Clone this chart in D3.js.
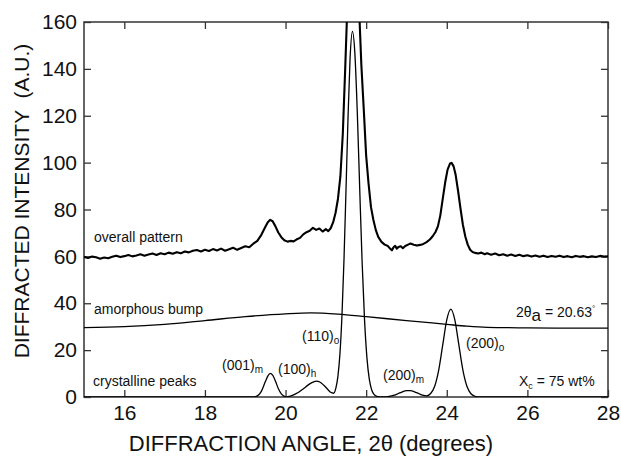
<!DOCTYPE html>
<html>
<head>
<meta charset="utf-8">
<script src="https://cdn.jsdelivr.net/npm/d3@7"></script>
<style>
  body { margin: 0; background: #fff; }
  svg { display: block; font-family: "Liberation Sans", Arial, Helvetica, sans-serif; }
</style>
</head>
<body>
<svg id="chart" width="621" height="457"></svg>
<script>
// X-ray diffraction pattern of a semicrystalline film, decomposed into
// amorphous and crystalline contributions.

// Measured pattern (2θ in degrees, intensity in A.U.), shifted up for display
const overallPattern = [
  [15.0,59.8],[15.1,59.3],[15.2,59.9],[15.3,59.6],[15.4,59.0],[15.5,59.5],[15.6,59.2],[15.7,59.8],
  [15.8,60.3],[15.9,59.7],[16.0,60.1],[16.1,60.6],[16.2,60.0],[16.3,60.4],[16.4,60.9],[16.5,60.3],
  [16.6,60.8],[16.7,61.2],[16.8,60.6],[16.9,61.3],[17.0,60.9],[17.1,61.6],[17.2,61.1],[17.3,61.8],
  [17.4,61.3],[17.5,62.1],[17.6,61.7],[17.7,62.4],[17.8,62.7],[17.9,62.1],[18.0,62.8],[18.1,62.3],
  [18.2,63.1],[18.3,62.5],[18.4,63.3],[18.5,62.4],[18.6,63.0],[18.7,63.7],[18.8,62.8],[18.9,63.6],
  [19.0,64.3],[19.1,63.9],[19.2,65.4],[19.3,66.6],[19.4,69.2],[19.5,72.6],[19.56,74.6],[19.62,75.6],
  [19.68,75.0],[19.75,72.8],[19.82,70.2],[19.9,68.1],[19.97,66.9],[20.05,66.3],[20.12,66.6],[20.2,66.4],
  [20.28,67.3],[20.36,67.9],[20.44,69.4],[20.52,70.3],[20.6,70.9],[20.68,72.2],[20.76,71.3],[20.84,71.9],
  [20.92,70.6],[21.0,71.6],[21.06,70.8],[21.12,72.0],[21.18,74.5],[21.24,78.5],[21.3,84.5],[21.36,94],
  [21.42,112],[21.48,140],[21.53,165],[21.58,195],[21.64,218],[21.7,215],[21.76,192],[21.82,168],
  [21.88,142],[21.94,123],[22.0,103],[22.06,91],[22.12,81],[22.18,75.5],[22.24,71.2],[22.3,68.3],
  [22.38,66.2],[22.46,65.0],[22.54,64.4],[22.6,63.2],[22.64,62.6],[22.68,63.9],[22.72,64.5],[22.76,63.3],
  [22.8,64.0],[22.86,64.3],[22.91,63.5],[22.97,64.4],[23.04,65.0],[23.1,65.5],[23.18,65.0],[23.26,64.6],
  [23.34,64.9],[23.42,65.3],[23.5,66.1],[23.58,67.2],[23.65,68.6],[23.72,70.4],[23.78,72.8],[23.84,77.5],
  [23.9,84.5],[23.96,91.5],[24.02,97.0],[24.08,99.6],[24.12,99.9],[24.17,98.4],[24.22,94.8],[24.28,88.0],
  [24.34,80.5],[24.4,73.5],[24.46,68.5],[24.52,65.0],[24.58,62.8],[24.64,61.9],[24.7,61.5],[24.78,61.2],
  [24.86,61.6],[24.94,60.9],[25.0,61.3],[25.1,60.7],[25.2,61.2],[25.3,60.5],[25.4,60.9],[25.5,60.3],
  [25.6,60.8],[25.7,60.2],[25.8,60.7],[25.9,60.1],[26.0,60.5],[26.1,59.9],[26.2,60.4],[26.3,59.8],
  [26.4,60.3],[26.5,59.7],[26.6,60.2],[26.7,59.8],[26.8,60.3],[26.9,59.7],[27.0,60.1],[27.1,59.6],
  [27.2,60.2],[27.3,59.8],[27.4,60.1],[27.5,59.6],[27.6,60.0],[27.7,59.7],[27.8,60.2],[27.9,59.9],
  [28.0,60.0]
];

// Fitted amorphous halo
const amorphousBump = [
  [15,29.6],[16,30.0],[17,31.0],[18,32.6],[19,34.3],[20,35.5],[20.63,35.9],[21.3,35.4],
  [22,34.3],[23,32.6],[24,31.0],[24.5,30.2],[25,29.7],[26,29.5],[27,29.4],[28,29.4]
];

// Fitted crystalline reflections
const crystallinePeaks = [
  [15,0],[19.2,0],[19.3,0.5],[19.4,2.4],[19.5,6.6],[19.56,8.9],[19.62,10.1],[19.68,9.3],
  [19.75,6.8],[19.82,3.6],[19.9,1.2],[19.97,0.3],[20.03,0.05],[20.1,0.3],[20.2,0.9],[20.3,1.8],
  [20.4,3.0],[20.5,4.3],[20.6,5.6],[20.7,6.5],[20.77,6.8],[20.85,6.4],[20.95,5.0],[21.05,3.2],
  [21.12,2.0],[21.19,1.6],[21.25,3.9],[21.3,8.9],[21.35,18.5],[21.4,34.8],[21.45,58.5],[21.5,88.3],
  [21.55,119],[21.6,144],[21.66,156],[21.72,146.6],[21.78,121.6],[21.84,89],[21.9,57.5],[21.96,32.9],
  [22.02,16.6],[22.08,7.4],[22.14,2.9],[22.2,1.0],[22.28,0.2],[22.4,0],[22.5,0.06],[22.6,0.35],
  [22.7,0.8],[22.8,1.5],[22.9,2.2],[23.0,2.7],[23.1,2.7],[23.2,2.2],[23.3,1.5],[23.4,0.8],
  [23.5,0.5],[23.6,1.5],[23.7,4.6],[23.8,11.5],[23.9,22.2],[24.0,32.9],[24.1,37.5],[24.2,32.9],
  [24.3,22.2],[24.4,11.5],[24.5,4.6],[24.6,1.4],[24.7,0.3],[24.8,0],[28,0]
];

const xTickValues = [16, 18, 20, 22, 24, 26, 28];
const yTickValues = [0, 20, 40, 60, 80, 100, 120, 140, 160];

const width = 621, height = 457;
const margin = { top: 22, right: 13, bottom: 60, left: 84 };
const innerW = width - margin.left - margin.right;
const innerH = height - margin.top - margin.bottom;

const svg = d3.select("#chart");
const g = svg.append("g").attr("transform", `translate(${margin.left},${margin.top})`);

const x = d3.scaleLinear().domain([15, 28]).range([0, innerW]);
const y = d3.scaleLinear().domain([0, 160]).range([innerH, 0]);

g.append("clipPath").attr("id", "plot-clip")
  .append("rect").attr("width", innerW).attr("height", innerH);

const axisColor = "#333";
const tickLen = 7;
const fontStack = "'Liberation Sans', Arial, sans-serif";

// Axes: ticks point inward on all four sides
const bottomAxis = g.append("g").attr("transform", `translate(0,${innerH})`)
  .call(d3.axisBottom(x).tickValues(xTickValues).tickSize(-tickLen).tickPadding(8).tickFormat(d3.format("d")));
const topAxis = g.append("g")
  .call(d3.axisTop(x).tickValues(xTickValues).tickSize(-tickLen).tickFormat(""));
const leftAxis = g.append("g")
  .call(d3.axisLeft(y).tickValues(yTickValues).tickSize(-tickLen).tickPadding(7).tickFormat(d3.format("d")));
const rightAxis = g.append("g").attr("transform", `translate(${innerW},0)`)
  .call(d3.axisRight(y).tickValues(yTickValues).tickSize(-tickLen).tickFormat(""));

[bottomAxis, topAxis, leftAxis, rightAxis].forEach(a => {
  a.select(".domain").remove();
  a.selectAll(".tick line").attr("stroke", axisColor).attr("stroke-width", 1.3);
  a.selectAll(".tick text").attr("fill", "#111").style("font-size", "21px")
    .style("font-family", fontStack);
});

// Plot frame
g.append("rect").attr("width", innerW).attr("height", innerH)
  .attr("fill", "none").attr("stroke", axisColor).attr("stroke-width", 1.5);

const line = d3.line().x(d => x(d[0])).y(d => y(d[1]));
const plot = g.append("g").attr("clip-path", "url(#plot-clip)");

plot.append("path").datum(amorphousBump)
  .attr("d", line.curve(d3.curveMonotoneX))
  .attr("fill", "none").attr("stroke", "#000").attr("stroke-width", 1.3);

plot.append("path").datum(crystallinePeaks)
  .attr("d", line.curve(d3.curveMonotoneX))
  .attr("fill", "none").attr("stroke", "#000").attr("stroke-width", 1.3);

plot.append("path").datum(overallPattern)
  .attr("d", line.curve(d3.curveLinear))
  .attr("fill", "none").attr("stroke", "#000").attr("stroke-width", 2.1)
  .attr("stroke-linejoin", "round");

// Axis titles
svg.append("text")
  .attr("transform", `translate(29,201) rotate(-90)`)
  .attr("text-anchor", "middle").attr("fill", "#111")
  .style("font-size", "21px").style("font-family", fontStack).style("white-space", "pre")
  .text("DIFFRACTED INTENSITY  (A.U.)");

svg.append("text")
  .attr("x", 311).attr("y", 451)
  .attr("text-anchor", "middle").attr("fill", "#111")
  .style("font-size", "22px").style("font-family", fontStack)
  .text("DIFFRACTION ANGLE, 2θ (degrees)");

// Curve and reflection labels
const labelSize = 14;
function label(px, py, main, sub, subSize, subDy) {
  const t = svg.append("text").attr("x", px).attr("y", py)
    .attr("fill", "#111").style("font-size", labelSize + "px").style("font-family", fontStack);
  t.append("tspan").text(main);
  if (sub) {
    t.append("tspan").attr("dy", subDy).style("font-size", subSize + "px").text(sub);
  }
  return t;
}

label(94, 242, "overall pattern");
label(94, 314, "amorphous bump");
label(93, 386, "crystalline peaks");

label(222, 370, "(001)", "m", 10, 3);
label(278, 374, "(100)", "h", 10, 3);
label(302, 341, "(110)", "o", 10, 3);
label(383, 380, "(200)", "m", 10, 3);
label(466, 348, "(200)", "o", 10, 3);

// Amorphous halo position
const halo = svg.append("text").attr("x", 516).attr("y", 317)
  .attr("fill", "#111").style("font-size", labelSize + "px").style("font-family", fontStack);
halo.append("tspan").text("2θ");
halo.append("tspan").attr("dy", 4).style("font-size", "17px").text("a");
halo.append("tspan").attr("dy", -4).text(" = 20.63");
halo.append("tspan").attr("dy", -6).style("font-size", "8px").text("°");

// Crystallinity
const xc = svg.append("text").attr("x", 519).attr("y", 386)
  .attr("fill", "#111").style("font-size", labelSize + "px").style("font-family", fontStack);
xc.append("tspan").text("X");
xc.append("tspan").attr("dy", 3).style("font-size", "9px").text("c");
xc.append("tspan").attr("dy", -3).text(" = 75 wt%");
</script>
</body>
</html>
